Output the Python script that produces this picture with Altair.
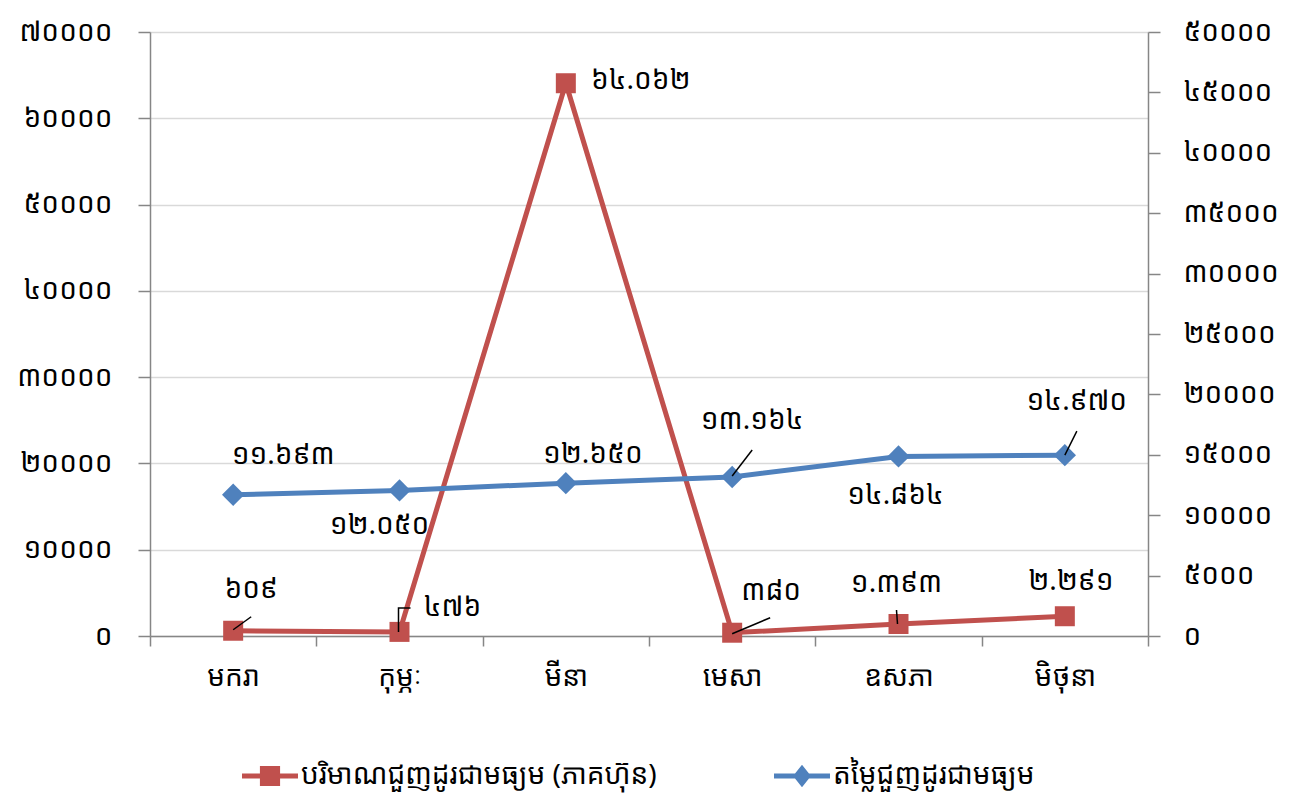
import altair as alt
import pandas as pd

# ---------------- data ----------------
months = ["មករា", "កុម្ភៈ", "មីនា", "មេសា", "ឧសភា", "មិថុនា"]
qty = [609, 476, 64062, 380, 1393, 2291]            # left axis (red)
val = [11693, 12050, 12650, 13164, 14864, 14970]     # right axis (blue)
series_names = ["បរិមាណជួញដូរជាមធ្យម (ភាគហ៊ុន)", "តម្លៃជួញដូរជាមធ្យម"]
left_ticks = [0, 10000, 20000, 30000, 40000, 50000, 60000, 70000]
right_ticks = [0, 5000, 10000, 15000, 20000, 25000, 30000, 35000, 40000, 45000, 50000]

# label offsets (pixels, relative to the point)
qty_label_off = [(18, -41), (53, -24), (75, -2), (39, -41), (-2, -40), (6, -34)]
val_label_off = [(50, -39), (-20, 36), (27, -28), (20, -56), (-3, 40), (12, -53)]
# leader lines (pixel path relative to the point), None = no leader
qty_leaders = [[(0, -1), (18, -14)], [(-1, 0), (-1, -24), (11, -24)], None,
               [(0, 1), (38, -15)], [(-1, 0), (-2, -14)], None]
val_leaders = [None, None, None, [(0, -1), (20, -27)], None, [(0, 0), (12, -24)]]

RED = "#C0504D"
BLUE = "#4F81BD"
FONT = "Noto Sans Khmer, Khmer OS, Khmer OS System, DejaVu Sans, sans-serif"
FS = 28
KH = "០១២៣៤៥៦៧៨៩"


def kh(n, sep=True):
    s = f"{n:,}".replace(",", ".") if sep else str(n)
    return "".join(KH[int(c)] if c.isdigit() else c for c in s)


def kh_expr():
    e = "toString(datum.value)"
    for i, c in enumerate(KH):
        e = f"replace({e}, regexp('{i}', 'g'), '{c}')"
    return e


UNIT = 40.0


def leader_path(pts):
    return "M" + " L".join(f"{x/UNIT:.3f},{y/UNIT:.3f}" for x, y in pts)


df_q = pd.DataFrame({"month": months, "v": qty, "label": [kh(v) for v in qty]})
df_v = pd.DataFrame({"month": months, "v": val, "label": [kh(v) for v in val]})

xenc = alt.X("month:N", sort=months, title=None,
             scale=alt.Scale(type="band", paddingInner=0, paddingOuter=0),
             axis=alt.Axis(tickBand="extent", labelAngle=0, labelFontSize=FS,
                           labelFont=FONT, labelColor="#000000", labelPadding=17,
                           tickSize=10, tickColor="#868686", domainColor="#868686",
                           domainWidth=1.5, tickWidth=1.5, grid=False))

yq = alt.Y("v:Q", title=None,
           scale=alt.Scale(domain=[0, 70000], nice=False, zero=True),
           axis=alt.Axis(orient="left", values=left_ticks, labelExpr=kh_expr(),
                         labelFontSize=FS, labelFont=FONT, labelColor="#000000",
                         labelPadding=26, tickSize=12, tickColor="#868686",
                         tickWidth=1.5, domainColor="#868686", domainWidth=1.5,
                         grid=True, gridColor="#D9D9D9", gridWidth=1.5))
yv = alt.Y("v:Q", title=None,
           scale=alt.Scale(domain=[0, 50000], nice=False, zero=True),
           axis=alt.Axis(orient="right", values=right_ticks, labelExpr=kh_expr(),
                         labelFontSize=FS, labelFont=FONT, labelColor="#000000",
                         labelPadding=23, tickSize=12, tickColor="#868686",
                         tickWidth=1.5, domainColor="#868686", domainWidth=1.5,
                         grid=False))


def series_layers(df, y, color, shape, msize, label_off, leaders):
    base = alt.Chart(df)
    layers = [
        base.mark_line(color=color, strokeWidth=5).encode(x=xenc, y=y),
        base.mark_point(color=color, filled=True, opacity=1, shape=shape,
                        size=msize).encode(x=xenc, y=y),
    ]
    for i, (dx, dy) in enumerate(label_off):
        layers.append(
            alt.Chart(df.iloc[[i]]).mark_text(dx=dx, dy=dy, fontSize=FS, font=FONT,
                                              color="#000000")
            .encode(x=xenc, y=y, text="label:N"))
    for i, pts in enumerate(leaders):
        if pts is None:
            continue
        layers.append(
            alt.Chart(df.iloc[[i]]).mark_point(shape=leader_path(pts), filled=False,
                                               stroke="#000000", strokeWidth=1.5,
                                               opacity=1, size=(2 * UNIT) ** 2)
            .encode(x=xenc, y=y))
    return alt.layer(*layers)


red = series_layers(df_q, yq, RED, "square", 400, qty_label_off, qty_leaders)
blue = series_layers(df_v, yv, BLUE, "diamond", 500, val_label_off, val_leaders)

leg_paths = ["M-1,-0.09H1V0.09H-1Z M-0.36,-0.36H0.36V0.36H-0.36Z",
             "M-1,-0.09H1V0.09H-1Z M0,-0.4L0.32,0L0,0.4L-0.32,0Z"]
df_leg = pd.DataFrame({"series": series_names})
legend_layer = alt.Chart(df_leg).mark_point(filled=True, opacity=1).encode(
    color=alt.Color("series:N", scale=alt.Scale(domain=series_names, range=[RED, BLUE]),
                    legend=alt.Legend(title=None, orient="none", direction="horizontal",
                                      legendX=92, legendY=716, labelFontSize=FS,
                                      labelFont=FONT, labelColor="#000000",
                                      symbolSize=3136, symbolStrokeWidth=0,
                                      symbolOpacity=1, columnPadding=117,
                                      labelOffset=3, labelLimit=600)),
    shape=alt.Shape("series:N", scale=alt.Scale(domain=series_names, range=leg_paths),
                    legend=None),
).transform_filter("false")

chart = alt.layer(red, blue, legend_layer).resolve_scale(y="independent").properties(
    width=998, height=604,
    autosize=alt.AutoSizeParams(type="none"),
    padding={"left": 142, "top": 24, "right": 130, "bottom": 160},
).configure_view(stroke=None)

chart.save("out.html", embed_options={"renderer": "svg", "actions": False})
